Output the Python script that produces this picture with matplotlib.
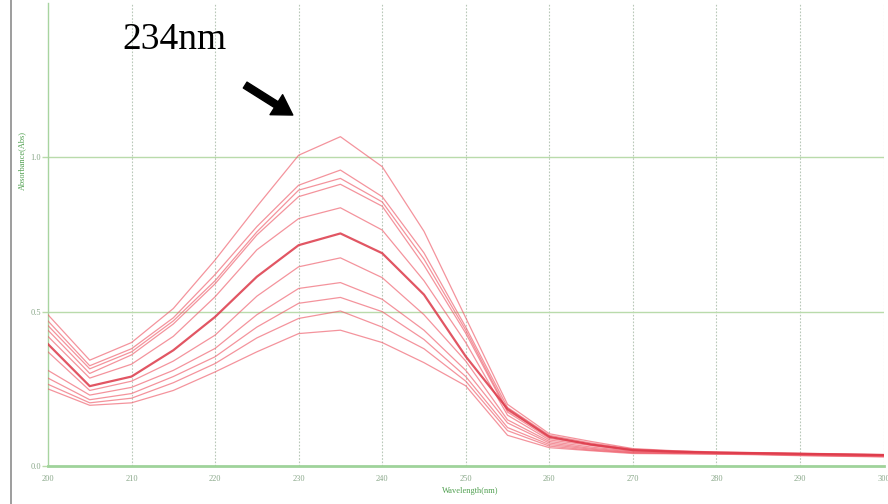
import matplotlib
matplotlib.use("Agg")
import matplotlib.pyplot as plt
from matplotlib.lines import Line2D

# wavelength grid (nm), one reading every 5 nm
wavelength = [200, 205, 210, 215, 220, 225, 230, 235, 240, 245, 250,
              255, 260, 265, 270, 275, 280, 285, 290, 295, 300]

# absorbance spectra, highest concentration first
abs_1 = [0.49, 0.343, 0.40, 0.51, 0.667, 0.84, 1.006, 1.066, 0.969, 0.76, 0.48,
         0.20, 0.105, 0.08, 0.057, 0.05, 0.046, 0.044, 0.042, 0.04, 0.038]
abs_2 = [0.47, 0.325, 0.38, 0.48, 0.62, 0.775, 0.909, 0.958, 0.872, 0.69, 0.45,
         0.19, 0.10, 0.075, 0.055, 0.049, 0.045, 0.043, 0.041, 0.039, 0.037]
abs_3 = [0.455, 0.315, 0.37, 0.47, 0.60, 0.758, 0.893, 0.931, 0.855, 0.67, 0.44,
         0.18, 0.095, 0.072, 0.053, 0.048, 0.044, 0.042, 0.040, 0.038, 0.036]
abs_4 = [0.44, 0.30, 0.36, 0.46, 0.59, 0.748, 0.872, 0.912, 0.841, 0.65, 0.43,
         0.175, 0.09, 0.07, 0.052, 0.047, 0.043, 0.042, 0.040, 0.037, 0.035]
abs_5 = [0.42, 0.285, 0.33, 0.42, 0.548, 0.70, 0.801, 0.836, 0.764, 0.60, 0.40,
         0.165, 0.085, 0.067, 0.05, 0.046, 0.043, 0.041, 0.039, 0.037, 0.035]
abs_6 = [0.395, 0.259, 0.29, 0.375, 0.483, 0.613, 0.715, 0.753, 0.689, 0.555, 0.355,
         0.185, 0.095, 0.07, 0.052, 0.047, 0.044, 0.042, 0.040, 0.038, 0.036]
abs_7 = [0.37, 0.245, 0.275, 0.34, 0.424, 0.55, 0.645, 0.674, 0.61, 0.49, 0.34,
         0.15, 0.08, 0.062, 0.048, 0.044, 0.042, 0.040, 0.038, 0.036, 0.034]
abs_8 = [0.31, 0.23, 0.255, 0.31, 0.381, 0.49, 0.575, 0.594, 0.54, 0.44, 0.31,
         0.14, 0.075, 0.058, 0.046, 0.043, 0.041, 0.040, 0.037, 0.035, 0.033]
abs_9 = [0.285, 0.215, 0.235, 0.29, 0.354, 0.45, 0.527, 0.546, 0.50, 0.41, 0.29,
         0.125, 0.07, 0.055, 0.044, 0.042, 0.040, 0.039, 0.036, 0.034, 0.032]
abs_10 = [0.265, 0.205, 0.22, 0.27, 0.332, 0.415, 0.478, 0.502, 0.45, 0.38, 0.275,
          0.115, 0.065, 0.052, 0.043, 0.041, 0.040, 0.038, 0.035, 0.033, 0.031]
abs_11 = [0.25, 0.197, 0.205, 0.245, 0.305, 0.37, 0.429, 0.44, 0.40, 0.335, 0.26,
          0.10, 0.06, 0.05, 0.041, 0.040, 0.039, 0.037, 0.034, 0.032, 0.030]

spectra = [abs_1, abs_2, abs_3, abs_4, abs_5, abs_6, abs_7, abs_8, abs_9, abs_10, abs_11]

x_ticks = [200, 210, 220, 230, 240, 250, 260, 270, 280, 290, 300]
y_ticks = [0.0, 0.5, 1.0]

tick_col = '#8aa88a'

fig = plt.figure(figsize=(8.88, 5.04), dpi=100)
ax = fig.add_axes([0.054, 0.075, 0.941, 0.92])

for i, s in enumerate(spectra):
    if i == 5:
        ax.plot(wavelength, s, color='#dc3848', lw=1.6, alpha=0.85, zorder=4)
    else:
        ax.plot(wavelength, s, color='#ee5a68', lw=0.9, alpha=0.65, zorder=3)

ax.set_xlim(200, 300)
ax.set_ylim(0, 1.5)

# grid: dotted verticals, solid horizontals
for xv in x_ticks[1:]:
    ax.axvline(xv, color='#b8c8b8', lw=0.8, ls=(0, (1.5, 1.5)), zorder=1)
for yv in y_ticks[1:]:
    ax.axhline(yv, color='#b9dbab', lw=1.0, zorder=1)

for side in ['top', 'right']:
    ax.spines[side].set_visible(False)
ax.spines['left'].set_color('#a8d4a0')
ax.spines['left'].set_linewidth(1.0)
ax.spines['bottom'].set_color('#9fd39a')
ax.spines['bottom'].set_linewidth(2.0)

ax.set_xticks(x_ticks)
ax.set_xticklabels([str(v) for v in x_ticks])
ax.set_yticks(y_ticks)
ax.set_yticklabels(['0.0', '0.5', '1.0'])
ax.tick_params(axis='x', length=0, pad=6, labelsize=6, labelcolor=tick_col)
ax.tick_params(axis='y', length=4, width=1.0, color='#b9dbab', pad=1,
               labelsize=6, labelcolor=tick_col)
for lab in ax.get_xticklabels() + ax.get_yticklabels():
    lab.set_family('Liberation Serif')

fig.text(470 / 888, 1 - 491 / 504, 'Wavelength(nm)', color='#4f9f4f',
         fontsize=6, family='Liberation Serif', ha='center', va='center')
fig.text(22 / 888, 1 - 160 / 504, 'Absorbance(Abs)', color='#4f9f4f',
         fontsize=6, family='Liberation Serif', ha='center', va='center',
         rotation=90)

# frame line on the left edge
fig.add_artist(Line2D([11 / 888, 11 / 888], [0, 1], color='#8c8c8c', lw=1.2,
                      transform=fig.transFigure))

# peak marker
ax.text(215.2, 1.38, '234nm', fontsize=27, family='Liberation Serif',
        color='black', ha='center', va='center')
ax.annotate('', xy=(229.3, 1.136), xytext=(223.6, 1.233),
            arrowprops=dict(facecolor='black', edgecolor='black', width=5,
                            headwidth=17, headlength=14, shrink=0))

fig.savefig('out.png', dpi=100)
